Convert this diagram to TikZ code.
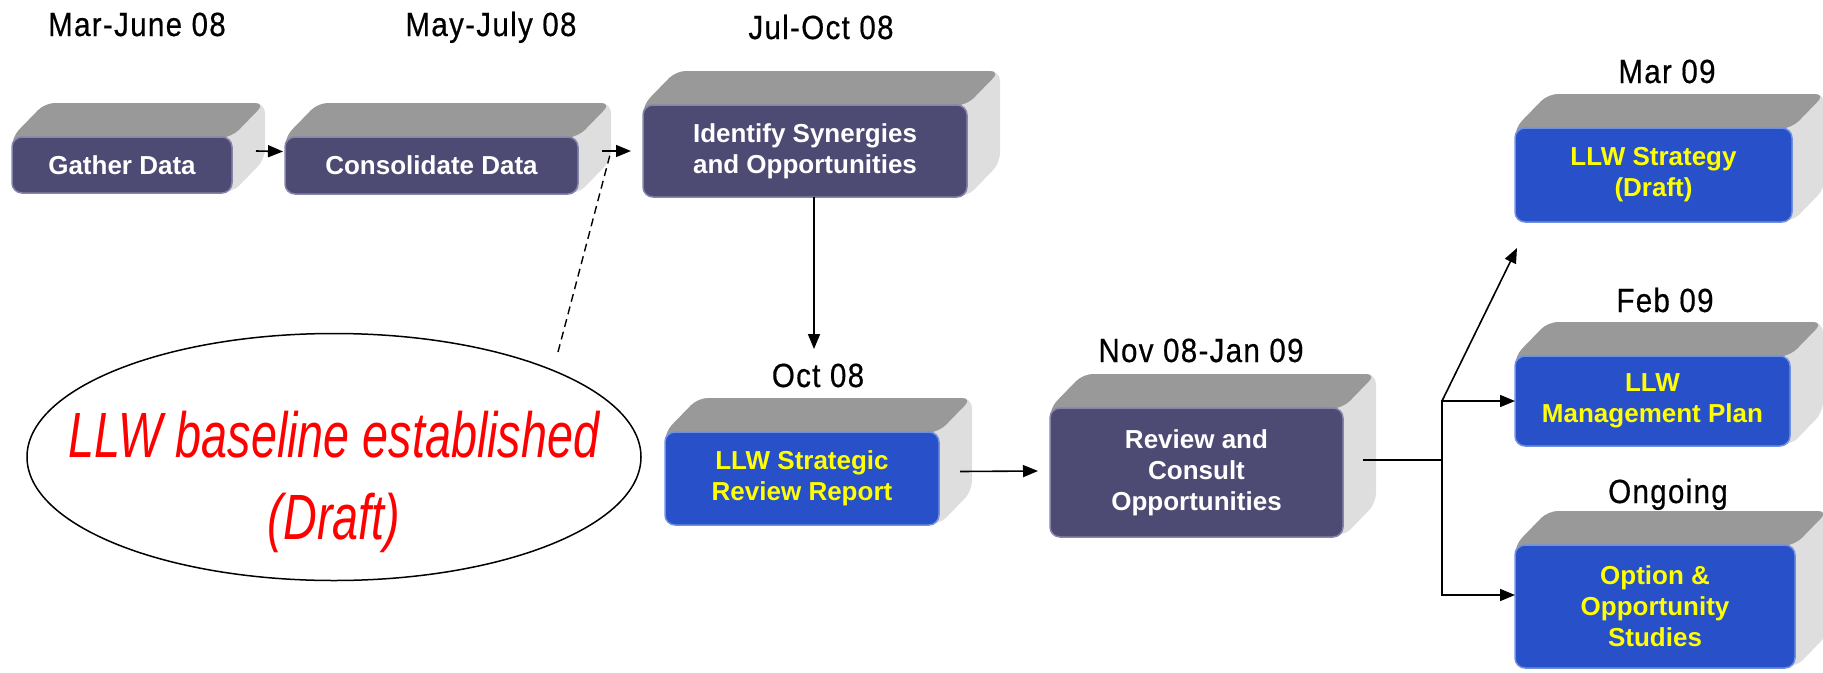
\documentclass[tikz,border=0pt]{standalone}
\usepackage{fontspec}
\setmainfont{Liberation Sans}
\newfontfamily\datefont[FakeStretch=0.88, FakeBold=0.5, LetterSpace=4]{Liberation Sans}
\newfontfamily\ovalfont[FakeStretch=0.73]{Liberation Sans}
\usepackage{tikz}
\usetikzlibrary{backgrounds, calc, positioning, shapes.geometric, arrows.meta}

\definecolor{slate}{HTML}{4D4B73}
\definecolor{slateedge}{HTML}{8584AA}
\definecolor{royal}{HTML}{2850C8}
\definecolor{royaledge}{HTML}{7090E0}
\definecolor{topgray}{HTML}{999999}
\definecolor{sidegray}{HTML}{DEDEDE}
\definecolor{mark}{HTML}{FFFF00}

\newcommand{\boxfont}{\fontsize{26}{31}\selectfont\bfseries}
% top and side faces behind a front node
\newcommand{\drawslab}[1]{%
  \fill[sidegray, rounded corners=10pt] ($(#1.north west)+(0,15)$) -- (#1.north west) -- ++(33,-34)
    -- ($(#1.north east)+(33,-34)$) -- ($(#1.south east)+(33,-34)$) -- (#1.south east) -- cycle;
  \fill[topgray, rounded corners=10pt] ($(#1.north west)+(0,15)$) -- (#1.north west) -- ++(33,-34)
    -- ($(#1.north east)+(33,-34)$) -- (#1.north east) -- cycle;
}

\tikzset{
  stage/.style={rounded corners=10pt, fill=slate, draw=slateedge, line width=1.5pt, text=white,
    font=\boxfont, align=center, inner sep=0pt, outer sep=0pt},
  product/.style={stage, fill=royal, draw=royaledge, text=mark},
  when/.style={font={\datefont\fontsize{33.5}{38}\selectfont}, anchor=base, inner sep=0pt},
  arr/.style={-{Triangle[length=15pt,width=12pt]}, line width=1.6pt},
}

\begin{document}
\begin{tikzpicture}[x=1pt, y=-1pt]
  \useasboundingbox (0,0) rectangle (1823,672);
  % Stages
  \node[stage, minimum width=220pt, minimum height=56pt] (gather) at (122,165) {Gather Data};
  \node[stage, minimum width=293pt, minimum height=57pt] (consol) at (431.5,165.5) {Consolidate Data};
  \node[stage, minimum width=324pt, minimum height=92pt] (synergy) at (805,151) {Identify Synergies\\and Opportunities};
  \node[product, minimum width=274pt, minimum height=93pt] (report) at (802,478.5) {LLW Strategic\\Review Report};
  \node[stage, minimum width=293pt, minimum height=129pt] (consult) at (1196.5,472.5) {Review and\\Consult\\Opportunities};
  \node[product, minimum width=277pt, minimum height=94pt] (strategy) at (1653.5,175) {LLW Strategy\\(Draft)};
  \node[product, minimum width=275pt, minimum height=90pt] (plan) at (1652.5,401) {LLW\\Management Plan};
  \node[product, minimum width=280pt, minimum height=123pt] (studies) at (1655,606.5) {Option \&\\Opportunity\\Studies};
  \begin{scope}[on background layer]
    \foreach \n in {gather, consol, synergy, report, consult, strategy, plan, studies}
      \drawslab{\n};
  \end{scope}
  % Dates
  \node[when] (t1) at (137,36) {Mar-June 08};
  \node[when] (t2) at (491,36) {May-July 08};
  \node[when] (t3) at (821,39) {Jul-Oct 08};
  \node[when] (t4) at (818,387) {Oct 08};
  \node[when] (t5) at (1201,362) {Nov 08-Jan 09};
  \node[when] (t6) at (1667,83) {Mar 09};
  \node[when] (t7) at (1665,312) {Feb 09};
  \node[when] (t8) at (1668,503) {Ongoing};
  % Baseline note
  \node[ellipse, draw, line width=1.5pt, minimum width=614pt, minimum height=247pt, inner sep=0pt] (baseline) at (334,457) {};
  \node[text=red, align=center, font={\ovalfont\itshape\fontsize{64}{82}\selectfont}] (basetext) at ([yshift=-25pt]baseline.center) {LLW baseline established\\(Draft)};
  % Flow
  \draw[arr] ([xshift=24pt,yshift=14pt]gather.east) -- ([xshift=-2pt,yshift=14pt]consol.west);
  \coordinate (handoff) at ([xshift=24pt,yshift=14.5pt]consol.east);
  \draw[arr] (handoff) -- ([xshift=-12pt]synergy.west);
  \draw[dashed, dash pattern=on 8pt off 5pt, line width=1.4pt] (558,352) -- ($(handoff)+(9,0)$);
  \draw[arr] ([xshift=9pt]synergy.south) -- ++(0,152);
  \draw[arr] ([xshift=21pt,yshift=7pt]report.east) -- ([xshift=-12pt,yshift=1.5pt]consult.west);
  \coordinate (fork) at (1442,460);
  \draw[line width=1.6pt] ([xshift=20pt,yshift=12.5pt]consult.east) -- (fork);
  \draw[arr] (fork) |- (plan.west);
  \draw[arr] (fork) |- ([yshift=11.5pt]studies.west);
  \draw[arr] (fork |- plan.west) -- ($(strategy.south west)+(2,26)$);
\end{tikzpicture}
\end{document}
